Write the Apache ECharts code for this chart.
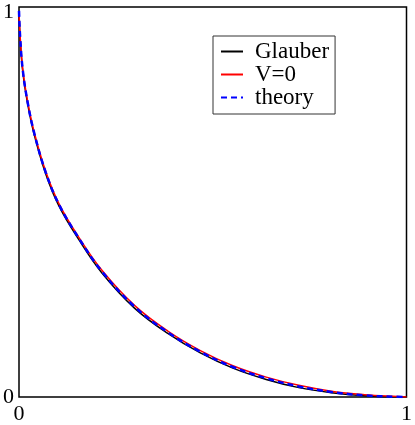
<!DOCTYPE html>
<html>
<head>
<meta charset="utf-8">
<script src="https://cdn.jsdelivr.net/npm/echarts@6/dist/echarts.min.js"></script>
<style>
  html, body { margin: 0; padding: 0; background: #fff; }
  #main { width: 415px; height: 425px; }
</style>
</head>
<body>
<div id="main"></div>
<script>
// values
var xValues  = [0, 0.003, 0.010, 0.023, 0.040, 0.069, 0.103, 0.154, 0.214, 0.298, 0.384, 0.468, 0.552, 0.638, 0.722, 0.806, 0.892, 0.976, 1.0];
var glauber  = [0.99, 0.918, 0.832, 0.748, 0.670, 0.572, 0.490, 0.404, 0.318, 0.228, 0.163, 0.113, 0.074, 0.045, 0.024, 0.011, 0.003, 0.0, 0.0];
var vZero    = [0.99, 0.924, 0.838, 0.754, 0.676, 0.578, 0.496, 0.410, 0.325, 0.235, 0.169, 0.119, 0.080, 0.051, 0.030, 0.015, 0.006, 0.001, 0.0];
var theory   = [0.99, 0.922, 0.836, 0.752, 0.674, 0.576, 0.494, 0.408, 0.322, 0.232, 0.166, 0.116, 0.077, 0.048, 0.027, 0.013, 0.004, 0.0005, 0.0];
var xTicks   = ['0', '1'];
var yTicks   = ['0', '1'];

function pairs(ys) {
  return xValues.map(function (x, i) { return [x, ys[i]]; });
}

var font = 'Liberation Serif, Times New Roman, serif';
var myChart = echarts.init(document.getElementById('main'));

myChart.setOption({
  animation: false,
  grid: {
    left: 16,
    right: 6,
    top: 7,
    bottom: 23,
    show: true,
    borderColor: '#000',
    borderWidth: 1.5
  },
  legend: {
    orient: 'vertical',
    left: 213,
    top: 36,
    padding: [4, 6, 5, 7],
    itemGap: 0,
    itemWidth: 22,
    itemHeight: 14,
    borderColor: '#333',
    borderWidth: 1,
    backgroundColor: '#fff',
    itemStyle: { opacity: 0 },
    textStyle: {
      fontFamily: font,
      fontSize: 23,
      lineHeight: 22.5,
      color: '#000',
      padding: [0, 0, 0, 7]
    },
    data: ['Glauber', 'V=0', 'theory']
  },
  xAxis: {
    type: 'value',
    min: 0,
    max: 1,
    interval: 1,
    axisLine: { show: false },
    axisTick: { show: false },
    splitLine: { show: false },
    axisLabel: {
      margin: 6,
      fontFamily: font,
      fontSize: 22,
      color: '#000',
      formatter: function (v) { return xTicks[v]; }
    }
  },
  yAxis: {
    type: 'value',
    min: 0,
    max: 1,
    interval: 1,
    axisLine: { show: false },
    axisTick: { show: false },
    splitLine: { show: false },
    axisLabel: {
      margin: 5,
      fontFamily: font,
      fontSize: 22,
      color: '#000',
      formatter: function (v) {
        return v === 1 ? '{t|' + yTicks[v] + '}' : yTicks[v];
      },
      rich: {
        t: { fontFamily: font, fontSize: 22, color: '#000', padding: [10, 0, 0, 0] }
      }
    }
  },
  series: [
    {
      name: 'Glauber',
      type: 'line',
      symbol: 'none',
      smooth: 0.4,
      color: '#000',
      lineStyle: { color: '#000', width: 1.5 },
      data: pairs(glauber)
    },
    {
      name: 'V=0',
      type: 'line',
      symbol: 'none',
      smooth: 0.4,
      color: '#ff0000',
      lineStyle: { color: '#ff0000', width: 1.5 },
      data: pairs(vZero)
    },
    {
      name: 'theory',
      type: 'line',
      symbol: 'none',
      smooth: 0.4,
      color: '#0000ff',
      lineStyle: { color: '#0000ff', width: 2.5, type: [6, 4] },
      data: pairs(theory)
    }
  ]
});
</script>
</body>
</html>
